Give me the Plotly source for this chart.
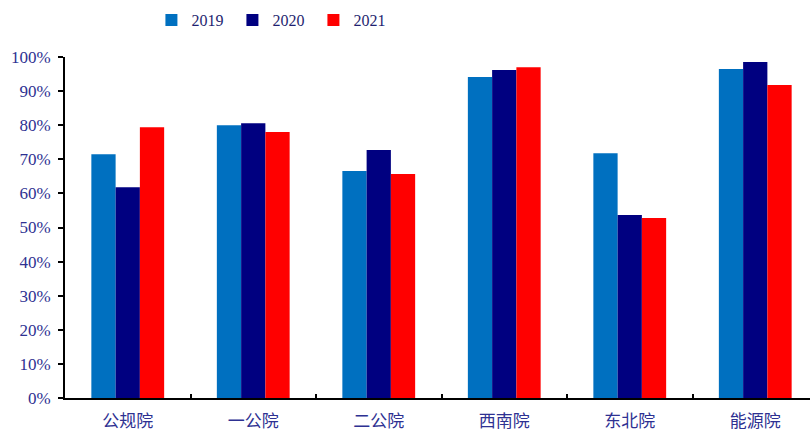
import plotly.graph_objects as go

categories = ["公规院", "一公院", "二公院", "西南院", "东北院", "能源院"]
years = ["2019", "2020", "2021"]
values_2019 = [0.715, 0.800, 0.666, 0.941, 0.718, 0.965]
values_2020 = [0.618, 0.806, 0.727, 0.962, 0.537, 0.985]
values_2021 = [0.794, 0.780, 0.657, 0.970, 0.528, 0.918]
colors = ["#0070C0", "#000080", "#FF0000"]

text_blue = "#2E3192"
serif = "Liberation Serif, Times New Roman, serif"

fig = go.Figure()
for name, vals, col in zip(years, [values_2019, values_2020, values_2021], colors):
    fig.add_trace(go.Bar(
        x=categories, y=vals, name=name,
        marker=dict(color=col, line=dict(width=0)),
    ))

fig.update_layout(
    width=810, height=431,
    margin=dict(l=65, r=0, t=57, b=33),
    paper_bgcolor="white", plot_bgcolor="white",
    barmode="group", bargap=0.42, bargroupgap=0,
    showlegend=True,
    legend=dict(
        orientation="h", x=0.116, xanchor="left", y=1.108, yanchor="middle",
        font=dict(family=serif, size=16, color="#1F1F70"),
        entrywidth=36, entrywidthmode="pixels",
        itemwidth=30, bgcolor="rgba(0,0,0,0)",
    ),
    font=dict(family=serif, color=text_blue),
)

fig.update_xaxes(
    range=[-0.5, 5.5 - 8 / 125.5],
    showline=True, linecolor="black", linewidth=2,
    ticks="inside", tickson="boundaries", ticklen=4, tickcolor="black", tickwidth=2,
    tickfont=dict(family="Noto Sans CJK SC", size=17, color=text_blue),
    ticklabelstandoff=7,
    showgrid=False, zeroline=False,
)
fig.update_yaxes(
    range=[0, 1], tickvals=[i / 10 for i in range(11)], tickformat=".0%",
    showline=True, linecolor="black", linewidth=2,
    ticks="outside", ticklen=5, tickcolor="black", tickwidth=2,
    tickfont=dict(family=serif, size=17, color=text_blue),
    ticklabelstandoff=4,
    showgrid=False, zeroline=False,
)

fig.write_html("out.html")
